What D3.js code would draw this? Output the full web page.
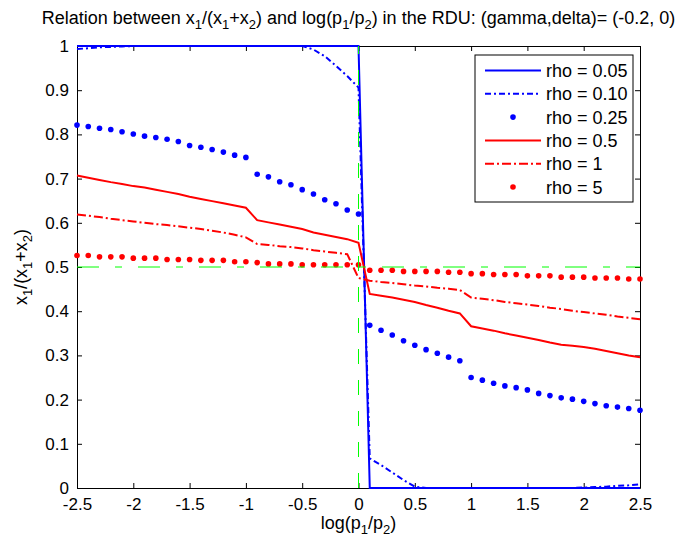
<!DOCTYPE html>
<meta charset="utf-8">
<script src="https://d3js.org/d3.v7.min.js"></script>
<style>
  body { margin: 0; background: #fff; }
  text { font-family: "Liberation Sans", Arial, sans-serif; }
</style>
<div id="chart"></div>
<script>

  // x grid: log(p1/p2) from -2.5 to 2.5, step 0.1
  const xs = [-2.5, -2.4, -2.3, -2.2, -2.1, -2.0, -1.9, -1.8, -1.7, -1.6, -1.5, -1.4, -1.3, -1.2, -1.1,
    -1.0, -0.9, -0.8, -0.7, -0.6, -0.5, -0.4, -0.3, -0.2, -0.1, 0.0,
    0.1, 0.2, 0.3, 0.4, 0.5, 0.6, 0.7, 0.8, 0.9, 1.0, 1.1, 1.2, 1.3, 1.4, 1.5,
    1.6, 1.7, 1.8, 1.9, 2.0, 2.1, 2.2, 2.3, 2.4, 2.5]

  // x1/(x1+x2) for each rho
  const rho005 = [1, 1, 1, 1, 1, 1, 1, 1, 1, 1, 1, 1, 1, 1, 1, 1, 1, 1, 1, 1, 1, 1, 1, 1, 1, 1,
    0, 0, 0, 0, 0, 0, 0, 0, 0, 0, 0, 0, 0, 0, 0, 0, 0, 0, 0, 0, 0, 0, 0, 0, 0]
  const rho010 = [0.993, 0.995, 0.997, 0.998, 0.999, 1, 1, 1, 1, 1, 1, 1, 1, 1, 1, 1, 1, 1, 1, 1, 1,
    0.992, 0.977, 0.955, 0.932, 0.906,
    0.067, 0.052, 0.035, 0.018, 0.003, 0, 0, 0, 0, 0, 0, 0, 0, 0, 0, 0, 0, 0, 0,
    0.001, 0.002, 0.003, 0.005, 0.006, 0.008]
  const rho025 = [0.821, 0.818, 0.814, 0.811, 0.806, 0.801, 0.796, 0.793, 0.789, 0.784, 0.775, 0.771, 0.766,
    0.760, 0.753, 0.748, 0.710, 0.704, 0.693, 0.686, 0.675, 0.665, 0.652, 0.643, 0.629, 0.620,
    0.368, 0.357, 0.346, 0.333, 0.323, 0.313, 0.305, 0.296, 0.288, 0.250, 0.244, 0.237, 0.231,
    0.227, 0.222, 0.214, 0.209, 0.204, 0.201, 0.196, 0.191, 0.186, 0.183, 0.180, 0.176]
  const rho05 = [0.707, 0.702, 0.697, 0.692, 0.688, 0.683, 0.680, 0.675, 0.670, 0.665, 0.659, 0.654, 0.649,
    0.644, 0.639, 0.634, 0.606, 0.601, 0.596, 0.591, 0.586, 0.578, 0.573, 0.568, 0.563, 0.555,
    0.439, 0.435, 0.431, 0.426, 0.421, 0.414, 0.408, 0.401, 0.395, 0.366, 0.361, 0.356, 0.350,
    0.345, 0.340, 0.335, 0.329, 0.324, 0.322, 0.319, 0.315, 0.310, 0.305, 0.300, 0.296]
  const rho1 = [0.619, 0.616, 0.613, 0.609, 0.606, 0.603, 0.600, 0.597, 0.595, 0.592, 0.589, 0.586, 0.582,
    0.578, 0.573, 0.567, 0.552, 0.550, 0.547, 0.545, 0.542, 0.538, 0.535, 0.532, 0.529, 0.475,
    0.469, 0.466, 0.464, 0.461, 0.458, 0.456, 0.453, 0.451, 0.448, 0.431, 0.428, 0.425, 0.421,
    0.418, 0.415, 0.412, 0.408, 0.405, 0.401, 0.398, 0.395, 0.392, 0.388, 0.385, 0.382]
  const rho5 = [0.526, 0.526, 0.523, 0.523, 0.523, 0.520, 0.520, 0.520, 0.517, 0.517, 0.517, 0.515, 0.515,
    0.515, 0.512, 0.512, 0.510, 0.507, 0.507, 0.507, 0.505, 0.505, 0.505, 0.505, 0.505, 0.505,
    0.4925, 0.4925, 0.4925, 0.490, 0.490, 0.490, 0.490, 0.488, 0.488, 0.485, 0.485, 0.483, 0.483,
    0.483, 0.480, 0.480, 0.480, 0.477, 0.477, 0.477, 0.475, 0.475, 0.475, 0.473, 0.473]

  const legendLabels = ["rho = 0.05", "rho = 0.10", "rho = 0.25", "rho = 0.5", "rho = 1", "rho = 5"]
  const xTicks = [-2.5, -2, -1.5, -1, -0.5, 0, 0.5, 1, 1.5, 2, 2.5]
  const yTicks = [0, 0.1, 0.2, 0.3, 0.4, 0.5, 0.6, 0.7, 0.8, 0.9, 1]

  const series = [
    { values: rho005, color: "#0000ff", kind: "line", dash: null },
    { values: rho010, color: "#0000ff", kind: "line", dash: "6,3,2,3" },
    { values: rho025, color: "#0000ff", kind: "dots" },
    { values: rho05,  color: "#ff0000", kind: "line", dash: null },
    { values: rho1,   color: "#ff0000", kind: "line", dash: "9,3,2,3" },
    { values: rho5,   color: "#ff0000", kind: "dots" }
  ]

  const width = 675
  const height = 543
  const margin = { top: 46, right: 35, bottom: 55, left: 77 }
  const fs = 18   // font size
  const tfs = 17  // tick label size
  const sub = 13  // subscript size

  const svg = d3.select("#chart")
    .append("svg")
      .attr("width", width)
      .attr("height", height)

  const x = d3.scaleLinear()
    .domain([-2.5, 2.5])
    .range([margin.left, width - margin.right])
  const y = d3.scaleLinear()
    .domain([0, 1])
    .range([height - margin.bottom, margin.top])

  const fmt = d => String(d)

  // axes (ticks pointing inward, box on all sides)
  svg.append("g")
    .attr("transform", `translate(0,${y(0)})`)
    .call(d3.axisBottom(x).tickValues(xTicks).tickFormat(fmt).tickSizeInner(-5).tickSizeOuter(0).tickPadding(10))
  svg.append("g")
    .attr("transform", `translate(0,${y(1)})`)
    .call(d3.axisTop(x).tickValues(xTicks).tickFormat("").tickSizeInner(-5).tickSizeOuter(0))
  svg.append("g")
    .attr("transform", `translate(${x(-2.5)},0)`)
    .call(d3.axisLeft(y).tickValues(yTicks).tickFormat(fmt).tickSizeInner(-5).tickSizeOuter(0).tickPadding(8))
  svg.append("g")
    .attr("transform", `translate(${x(2.5)},0)`)
    .call(d3.axisRight(y).tickValues(yTicks).tickFormat("").tickSizeInner(-5).tickSizeOuter(0))

  svg.selectAll(".domain").attr("stroke", "#000").attr("stroke-width", 1)
  svg.selectAll(".tick line").attr("stroke", "#000")
  svg.selectAll(".tick text")
    .attr("fill", "#000")
    .style("font-size", tfs + "px")

  // curves
  const line = d3.line()
    .x((d, i) => x(xs[i]))
    .y(d => y(d))

  series.forEach(s => {
    if (s.kind === "line") {
      svg.append("path")
        .datum(s.values)
        .attr("fill", "none")
        .attr("stroke", s.color)
        .attr("stroke-width", 2)
        .attr("stroke-dasharray", s.dash)
        .attr("d", line)
    } else {
      svg.append("g")
        .selectAll("circle")
        .data(s.values)
        .join("circle")
          .attr("cx", (d, i) => x(xs[i]))
          .attr("cy", d => y(d))
          .attr("r", 2.8)
          .attr("fill", s.color)
    }
  })

  // green reference lines
  svg.append("line")
    .attr("x1", x(-2.5)).attr("x2", x(2.5))
    .attr("y1", y(0.5)).attr("y2", y(0.5))
    .attr("stroke", "#00ff00")
    .attr("stroke-width", 1)
    .attr("stroke-dasharray", "22,16,7,16")
  svg.append("line")
    .attr("x1", x(0)).attr("x2", x(0))
    .attr("y1", y(0)).attr("y2", y(1))
    .attr("stroke", "#00ff00")
    .attr("stroke-width", 1)
    .attr("stroke-dasharray", "15,16")

  // text with subscripts: parts are [string, isSubscript]
  function richText(sel, parts) {
    let down = false
    parts.forEach(p => {
      const t = sel.append("tspan").text(p[0])
      if (p[1]) {
        t.style("font-size", sub + "px")
        if (!down) t.attr("dy", 5)
        down = true
      } else if (down) {
        t.attr("dy", -5)
        down = false
      }
    })
  }

  const title = svg.append("text")
    .attr("x", x(0))
    .attr("y", 24)
    .attr("text-anchor", "middle")
    .style("font-size", fs + "px")
  richText(title, [["Relation between x"], ["1", 1], ["/(x"], ["1", 1], ["+x"], ["2", 1],
    [") and log(p"], ["1", 1], ["/p"], ["2", 1], [") in the RDU: (gamma,delta)= (-0.2, 0)"]])

  const xlabel = svg.append("text")
    .attr("x", x(0))
    .attr("y", 529)
    .attr("text-anchor", "middle")
    .style("font-size", fs + "px")
  richText(xlabel, [["log(p"], ["1", 1], ["/p"], ["2", 1], [")"]])

  const ylabel = svg.append("text")
    .attr("transform", `translate(27,${y(0.5)}) rotate(-90)`)
    .attr("text-anchor", "middle")
    .style("font-size", fs + "px")
  richText(ylabel, [["x"], ["1", 1], ["/(x"], ["1", 1], ["+x"], ["2", 1], [")"]])

  // legend
  const lg = svg.append("g")
  lg.append("rect")
    .attr("x", 475).attr("y", 55)
    .attr("width", 158).attr("height", 147)
    .attr("fill", "#fff")
    .attr("stroke", "#000")
    .attr("stroke-width", 1)

  series.forEach((s, i) => {
    const ly = 70.5 + i * 23.3
    if (s.kind === "line") {
      lg.append("line")
        .attr("x1", 485).attr("x2", 541)
        .attr("y1", ly).attr("y2", ly)
        .attr("stroke", s.color)
        .attr("stroke-width", 2)
        .attr("stroke-dasharray", s.dash)
    } else {
      lg.append("circle")
        .attr("cx", 513).attr("cy", ly)
        .attr("r", 2.8)
        .attr("fill", s.color)
    }
    lg.append("text")
      .attr("x", 546)
      .attr("y", ly + 6.5)
      .style("font-size", fs + "px")
      .text(legendLabels[i])
  })

</script>
